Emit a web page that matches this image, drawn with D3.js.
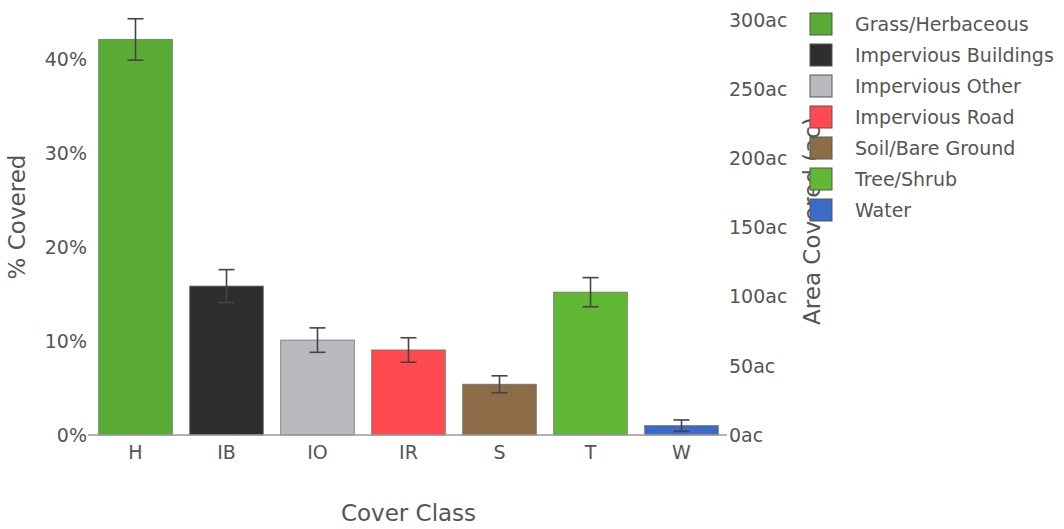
<!DOCTYPE html>
<html>
<head>
<meta charset="utf-8">
<script src="https://cdn.jsdelivr.net/npm/d3@7"></script>
<style>
  html, body { margin: 0; padding: 0; background: #fff; }
  svg { display: block; font-family: "DejaVu Sans", Verdana, sans-serif; }
</style>
</head>
<body>
<svg id="chart" width="1064" height="529"></svg>
<script>
// Land cover classes, share of total area (%) with error margins
const classCodes = ["H", "IB", "IO", "IR", "S", "T", "W"];
const classNames = ["Grass/Herbaceous", "Impervious Buildings", "Impervious Other",
                    "Impervious Road", "Soil/Bare Ground", "Tree/Shrub", "Water"];
const pctCovered = [42.1, 15.85, 10.1, 9.05, 5.4, 15.2, 1.0];
const pctError   = [2.2, 1.75, 1.3, 1.3, 0.9, 1.55, 0.6];
const classColors = ["#5aaa36", "#2e2e2e", "#b9babe", "#ff4b50", "#8c6d48", "#60b834", "#3a6cc8"];

// Total mapped area in acres (right axis shows the same bars in acres)
const totalAcres = 680;
const pctTicks = [0, 10, 20, 30, 40];
const acreTicks = [0, 50, 100, 150, 200, 250, 300];

const svg = d3.select("#chart");
const plot = { left: 90, right: 727, top: 15, bottom: 435 };
const yMax = 44.7;

const x = d3.scaleBand()
  .domain(classCodes)
  .range([plot.left, plot.right])
  .paddingInner(0.19)
  .paddingOuter(0.095);

const y = d3.scaleLinear().domain([0, yMax]).range([plot.bottom, plot.top]);
const y2 = d3.scaleLinear().domain([0, yMax * totalAcres / 100]).range([plot.bottom, plot.top]);

const textColor = "#555";
const tickFont = 19;
const titleFont = 23;

// Bars
const data = classCodes.map((c, i) => ({ code: c, pct: pctCovered[i], err: pctError[i], color: classColors[i] }));

svg.append("g").selectAll("rect")
  .data(data)
  .join("rect")
  .attr("x", d => x(d.code))
  .attr("width", x.bandwidth())
  .attr("y", d => y(d.pct))
  .attr("height", d => y(0) - y(d.pct))
  .attr("fill", d => d.color)
  .attr("stroke", "#666")
  .attr("stroke-opacity", 0.7)
  .attr("stroke-width", 1);

// Zero line
svg.append("line")
  .attr("x1", plot.left - 2).attr("x2", plot.right)
  .attr("y1", y(0)).attr("y2", y(0))
  .attr("stroke", "#9a9a9a").attr("stroke-width", 1.5);

// Error bars
const capHalf = 8;
const eb = svg.append("g").attr("stroke", "#444").attr("stroke-width", 1.6).attr("fill", "none");
data.forEach(d => {
  const cx = x(d.code) + x.bandwidth() / 2;
  eb.append("line").attr("x1", cx).attr("x2", cx).attr("y1", y(d.pct + d.err)).attr("y2", y(d.pct - d.err));
  eb.append("line").attr("x1", cx - capHalf).attr("x2", cx + capHalf).attr("y1", y(d.pct + d.err)).attr("y2", y(d.pct + d.err));
  eb.append("line").attr("x1", cx - capHalf).attr("x2", cx + capHalf).attr("y1", y(d.pct - d.err)).attr("y2", y(d.pct - d.err));
});

function styleAxis(g) {
  g.select(".domain").remove();
  g.selectAll("text")
    .attr("fill", textColor)
    .style("font-size", tickFont + "px")
    .style("font-family", "'DejaVu Sans', Verdana, sans-serif");
}

// Left axis (%)
svg.append("g")
  .attr("transform", `translate(${plot.left - 2},0)`)
  .call(d3.axisLeft(y).tickValues(pctTicks).tickFormat(d => d + "%").tickSize(0).tickPadding(1))
  .call(styleAxis);

// Right axis (acres)
svg.append("g")
  .attr("transform", `translate(${plot.right},0)`)
  .call(d3.axisRight(y2).tickValues(acreTicks).tickFormat(d => d + "ac").tickSize(0).tickPadding(2))
  .call(styleAxis);

// Bottom axis (class codes)
svg.append("g")
  .attr("transform", `translate(0,${plot.bottom})`)
  .call(d3.axisBottom(x).tickSize(0).tickPadding(11))
  .call(styleAxis);

// Axis titles
svg.append("text")
  .attr("transform", `translate(25,217) rotate(-90)`)
  .attr("text-anchor", "middle")
  .attr("fill", textColor)
  .style("font-size", titleFont + "px")
  .text("% Covered");

svg.append("text")
  .attr("x", (plot.left + plot.right) / 2)
  .attr("y", 521)
  .attr("text-anchor", "middle")
  .attr("fill", textColor)
  .style("font-size", titleFont + "px")
  .text("Cover Class");

svg.append("text")
  .attr("transform", `translate(820,221) rotate(-90)`)
  .attr("text-anchor", "middle")
  .attr("fill", textColor)
  .style("font-size", titleFont + "px")
  .text("Area Covered (ac)");

// Legend
const legend = svg.append("g").attr("transform", "translate(810,24)");
const rowStep = 31;
classNames.forEach((name, i) => {
  const row = legend.append("g").attr("transform", `translate(0,${i * rowStep})`);
  row.append("rect")
    .attr("x", 0).attr("y", -11)
    .attr("width", 22).attr("height", 22)
    .attr("fill", classColors[i])
    .attr("stroke", "#555").attr("stroke-width", 1);
  row.append("text")
    .attr("x", 45).attr("y", 0)
    .attr("dy", "0.35em")
    .attr("fill", textColor)
    .style("font-size", tickFont + "px")
    .text(name);
});
</script>
</body>
</html>
